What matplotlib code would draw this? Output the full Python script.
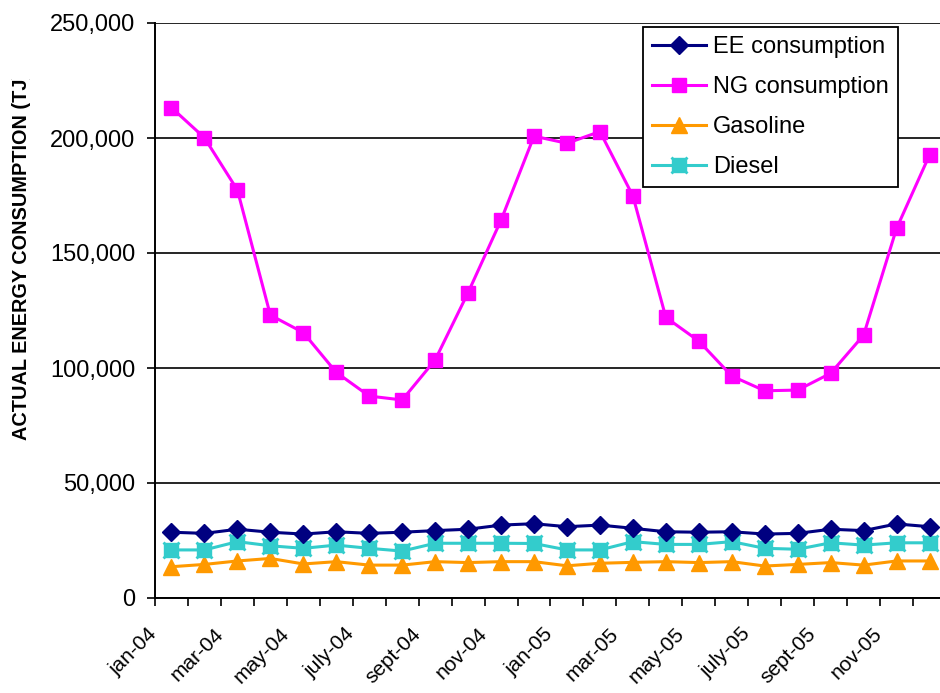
import matplotlib
matplotlib.use("Agg")
import matplotlib.pyplot as plt
from matplotlib.ticker import FuncFormatter, FixedLocator
from matplotlib.legend_handler import HandlerTuple
from matplotlib.transforms import Bbox, ScaledTranslation

plt.rcParams['font.family'] = ['Liberation Sans', 'DejaVu Sans']

months = ["jan-04", "feb-04", "mar-04", "apr-04", "may-04", "june-04",
          "july-04", "aug-04", "sept-04", "oct-04", "nov-04", "dec-04",
          "jan-05", "feb-05", "mar-05", "apr-05", "may-05", "june-05",
          "july-05", "aug-05", "sept-05", "oct-05", "nov-05", "dec-05"]

ee_consumption = [28600, 28100, 29900, 28600, 27800, 28800, 28100, 28600,
                  29300, 29900, 31700, 32300, 31000, 31700, 30300, 28800,
                  28600, 28800, 27800, 28100, 29900, 29300, 32200, 31000]
ng_consumption = [213200, 200100, 177400, 123000, 115400, 98100, 87800, 86100,
                  103500, 132800, 164300, 200800, 197700, 202800, 174800, 122000,
                  111700, 96500, 90100, 90400, 97700, 114300, 160700, 192600]
gasoline = [13600, 14600, 16100, 17200, 14800, 15800, 14300, 14300,
            15800, 15400, 15800, 15800, 14000, 15100, 15500, 15800,
            15400, 15800, 13900, 14600, 15400, 14300, 16100, 16100]
diesel = [20900, 20900, 24500, 22700, 21600, 23000, 21600, 20400,
          23800, 23800, 23800, 23700, 20900, 20900, 24500, 23300,
          23300, 24500, 21600, 21200, 24000, 23000, 24000, 24000]

W, H = 940, 693
fig = plt.figure(figsize=(W / 100, H / 100), dpi=100)
ax = fig.add_axes([155 / W, (H - 598) / H, 791 / W, 575 / H])

x = list(range(len(months)))

ee_line, = ax.plot(x, ee_consumption, color='#000080', lw=2.2, marker='D',
                   ms=9.5, mfc='#000080', mec='#000080', zorder=4)
ng_line, = ax.plot(x, ng_consumption, color='#FF00FF', lw=2.2, marker='s',
                   ms=10.5, mfc='#FF00FF', mec='#FF00FF', zorder=4)
gas_line, = ax.plot(x, gasoline, color='#FF9900', lw=2.2, marker='^',
                    ms=12, mfc='#FF9900', mec='#FF9900', zorder=3)
die_line, = ax.plot(x, diesel, color='#33CCCC', lw=2.2, marker='s',
                    ms=9.5, mfc='#33CCCC', mec='#33CCCC', zorder=3)
die_x, = ax.plot(x, diesel, ls='none', marker='x', ms=11.5, mew=2.0,
                 mec='#33CCCC', zorder=3)

ax.set_xlim(-0.5, len(months) - 0.5)
ax.set_ylim(0, 250000)

# category labels on every other month, tick marks on category boundaries
ax.xaxis.set_major_locator(FixedLocator(x[::2]))
ax.set_xticklabels(months[::2], rotation=45, ha='right', va='top',
                   rotation_mode='anchor', fontsize=15)
ax.tick_params(axis='x', which='major', length=0, pad=19)
shift = ScaledTranslation(-24 / 100, 0, fig.dpi_scale_trans)
for lab in ax.get_xticklabels():
    lab.set_transform(lab.get_transform() + shift)
ax.xaxis.set_minor_locator(FixedLocator([i - 0.5 for i in x]))
ax.tick_params(axis='x', which='minor', length=5.5, width=1.2, direction='out',
               color='black')

ax.set_yticks(range(0, 250001, 50000))
ax.yaxis.set_major_formatter(FuncFormatter(lambda v, p: f"{int(v):,}"))
ax.tick_params(axis='y', length=5.5, width=1.2, direction='out', pad=8.5,
               labelsize=17, color='black')

ax.grid(axis='y', color='black', lw=1.2)
ax.set_axisbelow(True)
for side in ('top', 'right'):
    ax.spines[side].set_visible(False)
for side in ('left', 'bottom'):
    ax.spines[side].set_linewidth(1.4)
    ax.spines[side].set_color('black')

ylab = fig.text(22 / W, (H - 440) / H, "ACTUAL ENERGY CONSUMPTION (TJ)",
                rotation=90, ha='center', va='bottom', fontsize=14.3,
                fontweight='bold')
ylab.set_clip_box(Bbox.from_extents(0, 0, 150, H - 79))
ylab.set_clip_on(True)

leg = ax.legend([ee_line, ng_line, gas_line, (die_line, die_x)],
                ["EE consumption", "NG consumption", "Gasoline", "Diesel"],
                handler_map={tuple: HandlerTuple(ndivide=1, pad=0)},
                loc='upper left', bbox_to_anchor=(643 / W, 1 - 27 / H),
                bbox_transform=fig.transFigure, fontsize=17,
                frameon=True, fancybox=False, edgecolor='black',
                framealpha=1, borderpad=0.38, labelspacing=0.76,
                handlelength=2.3, handletextpad=0.28, borderaxespad=0)
leg.get_frame().set_linewidth(1.3)
leg.set_zorder(10)

fig.savefig("out.png", dpi=100)
